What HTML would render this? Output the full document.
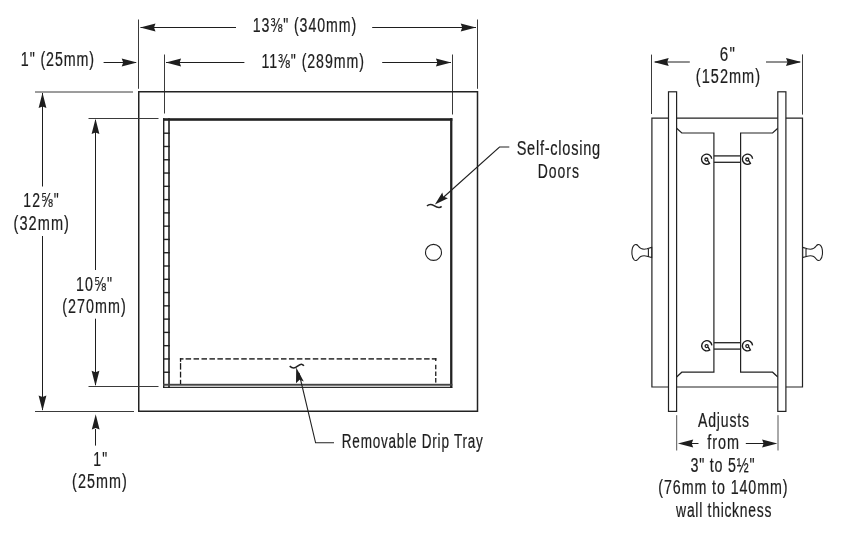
<!DOCTYPE html>
<html><head><meta charset="utf-8"><style>
html,body{margin:0;padding:0;background:#fff;width:850px;height:538px;overflow:hidden}
svg{display:block;will-change:transform}
text{font-family:"Liberation Sans",sans-serif}
</style></head><body>
<svg width="850" height="538" viewBox="0 0 850 538">
<rect width="850" height="538" fill="#fff"/>
<line x1="138.5" y1="19.5" x2="138.5" y2="88.8" stroke="#3a3a3a" stroke-width="1"/>
<line x1="477.5" y1="19.5" x2="477.5" y2="88.8" stroke="#3a3a3a" stroke-width="1"/>
<line x1="140.5" y1="27.5" x2="236" y2="27.5" stroke="#1e1e1e" stroke-width="1"/>
<path d="M140.20,27.50 L155.50,23.60 L154.00,27.50 L155.50,31.40Z" fill="#1e1e1e"/>
<line x1="372.2" y1="27.5" x2="476" y2="27.5" stroke="#1e1e1e" stroke-width="1"/>
<path d="M476.00,27.50 L460.70,23.60 L462.20,27.50 L460.70,31.40Z" fill="#1e1e1e"/>
<text transform="translate(252.82,31.8) scale(0.7228,1)" font-size="19.6" letter-spacing="1.275" fill="#1e1e1e" stroke="#1e1e1e" stroke-width="0.22">13⅜" (340mm)</text>
<line x1="164.5" y1="54.5" x2="164.5" y2="113.5" stroke="#3a3a3a" stroke-width="1"/>
<line x1="452.5" y1="54.5" x2="452.5" y2="114.5" stroke="#3a3a3a" stroke-width="1"/>
<line x1="166" y1="62.5" x2="244.4" y2="62.5" stroke="#1e1e1e" stroke-width="1"/>
<path d="M165.80,62.50 L181.10,58.60 L179.60,62.50 L181.10,66.40Z" fill="#1e1e1e"/>
<line x1="382.2" y1="62.5" x2="451" y2="62.5" stroke="#1e1e1e" stroke-width="1"/>
<path d="M451.20,62.50 L435.90,58.60 L437.40,62.50 L435.90,66.40Z" fill="#1e1e1e"/>
<text transform="translate(261.52,67.6) scale(0.7236,1)" font-size="19.6" letter-spacing="1.275" fill="#1e1e1e" stroke="#1e1e1e" stroke-width="0.22">11⅜" (289mm)</text>
<line x1="103.6" y1="62.5" x2="136" y2="62.5" stroke="#1e1e1e" stroke-width="1"/>
<path d="M137.00,62.50 L121.70,58.60 L123.20,62.50 L121.70,66.40Z" fill="#1e1e1e"/>
<text transform="translate(20.81,66) scale(0.7283,1)" font-size="19.6" letter-spacing="1.224" fill="#1e1e1e" stroke="#1e1e1e" stroke-width="0.22">1" (25mm)</text>
<rect x="138.75" y="91.75" width="338.75" height="319.5" fill="none" stroke="#222" stroke-width="1.5"/>
<line x1="35" y1="92" x2="133" y2="92" stroke="#3a3a3a" stroke-width="1"/>
<line x1="88.5" y1="118.5" x2="158.5" y2="118.5" stroke="#3a3a3a" stroke-width="1"/>
<line x1="35" y1="411.5" x2="134" y2="411.5" stroke="#3a3a3a" stroke-width="1"/>
<line x1="88.5" y1="386.5" x2="158.5" y2="386.5" stroke="#3a3a3a" stroke-width="1"/>
<line x1="42.5" y1="93" x2="42.5" y2="186.5" stroke="#1e1e1e" stroke-width="1"/>
<line x1="42.5" y1="236" x2="42.5" y2="410" stroke="#1e1e1e" stroke-width="1"/>
<path d="M42.50,92.80 L38.60,108.10 L42.50,106.60 L46.40,108.10Z" fill="#1e1e1e"/>
<path d="M42.50,410.70 L38.60,395.40 L42.50,396.90 L46.40,395.40Z" fill="#1e1e1e"/>
<text transform="translate(23.24,207.4) scale(0.7132,1)" font-size="19.6" letter-spacing="1.584" fill="#1e1e1e" stroke="#1e1e1e" stroke-width="0.22">12⅝"</text>
<text transform="translate(13.50,230.4) scale(0.7426,1)" font-size="19.6" letter-spacing="1.446" fill="#1e1e1e" stroke="#1e1e1e" stroke-width="0.22">(32mm)</text>
<line x1="95.5" y1="120" x2="95.5" y2="270" stroke="#1e1e1e" stroke-width="1"/>
<line x1="95.5" y1="318.7" x2="95.5" y2="385" stroke="#1e1e1e" stroke-width="1"/>
<path d="M95.50,118.80 L91.60,134.10 L95.50,132.60 L99.40,134.10Z" fill="#1e1e1e"/>
<path d="M95.50,386.00 L91.60,370.70 L95.50,372.20 L99.40,370.70Z" fill="#1e1e1e"/>
<text transform="translate(75.92,290.9) scale(0.7258,1)" font-size="19.6" letter-spacing="1.584" fill="#1e1e1e" stroke="#1e1e1e" stroke-width="0.22">10⅝"</text>
<text transform="translate(62.31,313.2) scale(0.7309,1)" font-size="19.6" letter-spacing="1.407" fill="#1e1e1e" stroke="#1e1e1e" stroke-width="0.22">(270mm)</text>
<line x1="95.5" y1="429" x2="95.5" y2="445.6" stroke="#1e1e1e" stroke-width="1"/>
<path d="M95.70,414.30 L91.80,429.60 L95.70,428.10 L99.60,429.60Z" fill="#1e1e1e"/>
<text transform="translate(93.14,466.3) scale(0.7127,1)" font-size="19.6" letter-spacing="1.726" fill="#1e1e1e" stroke="#1e1e1e" stroke-width="0.22">1"</text>
<text transform="translate(72.11,487.9) scale(0.7330,1)" font-size="19.6" letter-spacing="1.446" fill="#1e1e1e" stroke="#1e1e1e" stroke-width="0.22">(25mm)</text>
<rect x="163" y="118.2" width="289.4" height="2.6" fill="#222"/>
<rect x="450.1" y="118.2" width="2.3" height="269.5" fill="#222"/>
<rect x="163" y="118.2" width="1.4" height="269.5" fill="#222"/>
<rect x="168.2" y="118.2" width="1.6" height="269.5" fill="#222"/>
<rect x="163" y="383.8" width="289.4" height="1.9" fill="#444"/>
<rect x="163" y="386.8" width="289.4" height="1.1" fill="#151515"/>
<rect x="163" y="132.5" width="6.8" height="1.4" fill="#222"/>
<rect x="163" y="145.78" width="6.8" height="1.4" fill="#222"/>
<rect x="163" y="159.06" width="6.8" height="1.4" fill="#222"/>
<rect x="163" y="172.34" width="6.8" height="1.4" fill="#222"/>
<rect x="163" y="185.62" width="6.8" height="1.4" fill="#222"/>
<rect x="163" y="198.89999999999998" width="6.8" height="1.4" fill="#222"/>
<rect x="163" y="212.18" width="6.8" height="1.4" fill="#222"/>
<rect x="163" y="225.45999999999998" width="6.8" height="1.4" fill="#222"/>
<rect x="163" y="238.74" width="6.8" height="1.4" fill="#222"/>
<rect x="163" y="252.01999999999998" width="6.8" height="1.4" fill="#222"/>
<rect x="163" y="265.3" width="6.8" height="1.4" fill="#222"/>
<rect x="163" y="278.58" width="6.8" height="1.4" fill="#222"/>
<rect x="163" y="291.85999999999996" width="6.8" height="1.4" fill="#222"/>
<rect x="163" y="305.14" width="6.8" height="1.4" fill="#222"/>
<rect x="163" y="318.42" width="6.8" height="1.4" fill="#222"/>
<rect x="163" y="331.7" width="6.8" height="1.4" fill="#222"/>
<rect x="163" y="344.97999999999996" width="6.8" height="1.4" fill="#222"/>
<rect x="163" y="358.26" width="6.8" height="1.4" fill="#222"/>
<rect x="163" y="371.54" width="6.8" height="1.4" fill="#222"/>
<rect x="179.9" y="358.2" width="3.6" height="1.4" fill="#1a1a1a"/>
<rect x="179.9" y="358.2" width="1.3" height="3.6" fill="#1a1a1a"/>
<rect x="185.6" y="358.2" width="5.5" height="1.4" fill="#1a1a1a"/>
<rect x="193.54999999999998" y="358.2" width="5.5" height="1.4" fill="#1a1a1a"/>
<rect x="201.5" y="358.2" width="5.5" height="1.4" fill="#1a1a1a"/>
<rect x="209.45" y="358.2" width="5.5" height="1.4" fill="#1a1a1a"/>
<rect x="217.4" y="358.2" width="5.5" height="1.4" fill="#1a1a1a"/>
<rect x="225.35" y="358.2" width="5.5" height="1.4" fill="#1a1a1a"/>
<rect x="233.3" y="358.2" width="5.5" height="1.4" fill="#1a1a1a"/>
<rect x="241.25" y="358.2" width="5.5" height="1.4" fill="#1a1a1a"/>
<rect x="249.2" y="358.2" width="5.5" height="1.4" fill="#1a1a1a"/>
<rect x="257.15" y="358.2" width="5.5" height="1.4" fill="#1a1a1a"/>
<rect x="265.1" y="358.2" width="5.5" height="1.4" fill="#1a1a1a"/>
<rect x="273.05" y="358.2" width="5.5" height="1.4" fill="#1a1a1a"/>
<rect x="281.0" y="358.2" width="5.5" height="1.4" fill="#1a1a1a"/>
<rect x="288.95" y="358.2" width="5.5" height="1.4" fill="#1a1a1a"/>
<rect x="296.9" y="358.2" width="5.5" height="1.4" fill="#1a1a1a"/>
<rect x="304.85" y="358.2" width="5.5" height="1.4" fill="#1a1a1a"/>
<rect x="312.8" y="358.2" width="5.5" height="1.4" fill="#1a1a1a"/>
<rect x="320.75" y="358.2" width="5.5" height="1.4" fill="#1a1a1a"/>
<rect x="328.7" y="358.2" width="5.5" height="1.4" fill="#1a1a1a"/>
<rect x="336.65" y="358.2" width="5.5" height="1.4" fill="#1a1a1a"/>
<rect x="344.6" y="358.2" width="5.5" height="1.4" fill="#1a1a1a"/>
<rect x="352.55" y="358.2" width="5.5" height="1.4" fill="#1a1a1a"/>
<rect x="360.5" y="358.2" width="5.5" height="1.4" fill="#1a1a1a"/>
<rect x="368.45" y="358.2" width="5.5" height="1.4" fill="#1a1a1a"/>
<rect x="376.4" y="358.2" width="5.5" height="1.4" fill="#1a1a1a"/>
<rect x="384.35" y="358.2" width="5.5" height="1.4" fill="#1a1a1a"/>
<rect x="392.3" y="358.2" width="5.5" height="1.4" fill="#1a1a1a"/>
<rect x="400.25" y="358.2" width="5.5" height="1.4" fill="#1a1a1a"/>
<rect x="408.2" y="358.2" width="5.5" height="1.4" fill="#1a1a1a"/>
<rect x="416.15" y="358.2" width="5.5" height="1.4" fill="#1a1a1a"/>
<rect x="424.1" y="358.2" width="5.5" height="1.4" fill="#1a1a1a"/>
<rect x="431.8" y="358.2" width="4.6" height="1.4" fill="#1a1a1a"/>
<rect x="435.1" y="358.2" width="1.3" height="2.8" fill="#1a1a1a"/>
<rect x="179.9" y="363.1" width="1.3" height="6.5" fill="#1a1a1a"/>
<rect x="179.9" y="371.7" width="1.3" height="5.800000000000011" fill="#1a1a1a"/>
<rect x="179.9" y="379.8" width="1.3" height="4.199999999999989" fill="#1a1a1a"/>
<rect x="435.1" y="364.8" width="1.3" height="4.5" fill="#1a1a1a"/>
<rect x="435.1" y="371.5" width="1.3" height="4.5" fill="#1a1a1a"/>
<rect x="435.1" y="378" width="1.3" height="4.600000000000023" fill="#1a1a1a"/>
<circle cx="433.5" cy="252.4" r="8" fill="none" stroke="#222" stroke-width="1.1"/>
<path d="M509.3,147 H499.5 L441,199.5" fill="none" stroke="#222" stroke-width="1.1" />
<path d="M434.9,204.5 L442.3,192.6 L443.3,196.6 L447.9,198.2 Z" fill="#1e1e1e"/>
<path d="M427,206 C429,204 431,203.8 434,205.6 C437,207.6 439.5,208.6 441.6,206.4" fill="none" stroke="#222" stroke-width="1.6" />
<text transform="translate(516.64,155.2) scale(0.7434,1)" font-size="19.6" letter-spacing="1.002" fill="#1e1e1e" stroke="#1e1e1e" stroke-width="0.22">Self-closing</text>
<text transform="translate(537.75,177.9) scale(0.7133,1)" font-size="19.6" letter-spacing="1.388" fill="#1e1e1e" stroke="#1e1e1e" stroke-width="0.22">Doors</text>
<path d="M334,442.8 H315.6 L299,373" fill="none" stroke="#222" stroke-width="1.1" />
<path d="M296.2,367.6 L296,383.3 L299.6,379.8 L303.8,381.4 Z" fill="#1e1e1e"/>
<path d="M289.7,366.2 C291.5,367.8 293,368.6 295.5,367.6 C298,366 300,364 301.5,364.2 C302.8,364.4 303.4,365 303.8,365.8" fill="none" stroke="#222" stroke-width="1.6" />
<text transform="translate(341.79,447.9) scale(0.6905,1)" font-size="19.6" letter-spacing="1.133" fill="#1e1e1e" stroke="#1e1e1e" stroke-width="0.22">Removable Drip Tray</text>
<text transform="translate(719.63,60.6) scale(0.7748,1)" font-size="19.6" letter-spacing="1.781" fill="#1e1e1e" stroke="#1e1e1e" stroke-width="0.22">6"</text>
<text transform="translate(695.80,83) scale(0.7403,1)" font-size="19.6" letter-spacing="1.407" fill="#1e1e1e" stroke="#1e1e1e" stroke-width="0.22">(152mm)</text>
<line x1="651.5" y1="54.6" x2="651.5" y2="114" stroke="#3a3a3a" stroke-width="1"/>
<line x1="802.5" y1="54.4" x2="802.5" y2="114.6" stroke="#3a3a3a" stroke-width="1"/>
<line x1="655" y1="62" x2="689.8" y2="62" stroke="#1e1e1e" stroke-width="1"/>
<path d="M653.40,62.00 L668.70,58.10 L667.20,62.00 L668.70,65.90Z" fill="#1e1e1e"/>
<line x1="766" y1="62" x2="800" y2="62" stroke="#1e1e1e" stroke-width="1"/>
<path d="M801.30,62.00 L786.00,58.10 L787.50,62.00 L786.00,65.90Z" fill="#1e1e1e"/>
<path d="M651.9,118.2 H802.5 V387 H651.9 Z" fill="none" stroke="#222" stroke-width="1.2"/>
<path d="M676.6,128.2 L681.8,133 H713.9 V372.2 H681.8 L676.6,377 M777.8,128.2 L772.6,133 H740.6 V372.2 H772.6 L777.8,377" fill="none" stroke="#222" stroke-width="1.2" />
<line x1="713.9" y1="155.9" x2="740.6" y2="155.9" stroke="#222" stroke-width="1.3"/>
<line x1="713.9" y1="162.3" x2="740.6" y2="162.3" stroke="#222" stroke-width="1.3"/>
<line x1="713.9" y1="342.7" x2="740.6" y2="342.7" stroke="#222" stroke-width="1.3"/>
<line x1="713.9" y1="349.1" x2="740.6" y2="349.1" stroke="#222" stroke-width="1.3"/>
<path d="M711.68,158.76 A5.1,5.1 0 1 0 709.53,163.38 L707.90,160.60" fill="none" stroke="#1a1a1a" stroke-width="1.35"/>
<circle cx="706.4" cy="159.5" r="1.5" fill="none" stroke="#1a1a1a" stroke-width="1.3"/>
<path d="M752.58,158.76 A5.1,5.1 0 1 0 750.43,163.38 L748.80,160.60" fill="none" stroke="#1a1a1a" stroke-width="1.35"/>
<circle cx="747.3" cy="159.5" r="1.5" fill="none" stroke="#1a1a1a" stroke-width="1.3"/>
<path d="M711.88,345.36 A5.1,5.1 0 1 0 709.73,349.98 L708.10,347.20" fill="none" stroke="#1a1a1a" stroke-width="1.35"/>
<circle cx="706.5999999999999" cy="346.1" r="1.5" fill="none" stroke="#1a1a1a" stroke-width="1.3"/>
<path d="M752.58,345.36 A5.1,5.1 0 1 0 750.43,349.98 L748.80,347.20" fill="none" stroke="#1a1a1a" stroke-width="1.35"/>
<circle cx="747.3" cy="346.1" r="1.5" fill="none" stroke="#1a1a1a" stroke-width="1.3"/>
<rect x="668.5" y="91.8" width="8.1" height="319.6" fill="#fff" stroke="#222" stroke-width="1.2"/>
<rect x="777.8" y="91.8" width="8.1" height="319.6" fill="#fff" stroke="#222" stroke-width="1.2"/>
<path d="M651.7,247.4 L647,248.8 C643,249.8 640.5,249.5 638.2,246 C637.3,244.6 635.6,244 634.2,245.2 C632.3,247 631.9,250 631.9,252.5 C631.9,255 632.3,258 634.2,259.8 C635.6,261 637.3,260.4 638.2,259 C640.5,255.5 643,255.2 647,256.2 L651.7,257.6 Z M648.4,248.5 V256.5" fill="#fff" stroke="#222" stroke-width="1.1"/>
<g transform="translate(1454.4,0) scale(-1,1)"><path d="M651.7,247.4 L647,248.8 C643,249.8 640.5,249.5 638.2,246 C637.3,244.6 635.6,244 634.2,245.2 C632.3,247 631.9,250 631.9,252.5 C631.9,255 632.3,258 634.2,259.8 C635.6,261 637.3,260.4 638.2,259 C640.5,255.5 643,255.2 647,256.2 L651.7,257.6 Z M648.4,248.5 V256.5" fill="#fff" stroke="#222" stroke-width="1.1"/></g>
<line x1="676.7" y1="415.2" x2="676.7" y2="450.5" stroke="#555" stroke-width="1"/>
<line x1="778" y1="415.2" x2="778" y2="450.5" stroke="#555" stroke-width="1"/>
<line x1="690" y1="443.5" x2="698.5" y2="443.5" stroke="#1e1e1e" stroke-width="1"/>
<path d="M677.90,443.50 L693.20,439.60 L691.70,443.50 L693.20,447.40Z" fill="#1e1e1e"/>
<line x1="745.8" y1="443.5" x2="765" y2="443.5" stroke="#1e1e1e" stroke-width="1"/>
<path d="M777.40,443.50 L762.10,439.60 L763.60,443.50 L762.10,447.40Z" fill="#1e1e1e"/>
<text transform="translate(697.97,426.5) scale(0.7154,1)" font-size="19.6" letter-spacing="1.176" fill="#1e1e1e" stroke="#1e1e1e" stroke-width="0.22">Adjusts</text>
<text transform="translate(707.20,449.1) scale(0.7366,1)" font-size="19.6" letter-spacing="1.394" fill="#1e1e1e" stroke="#1e1e1e" stroke-width="0.22">from</text>
<text transform="translate(690.45,471.7) scale(0.7307,1)" font-size="19.6" letter-spacing="1.079" fill="#1e1e1e" stroke="#1e1e1e" stroke-width="0.22">3" to 5½"</text>
<text transform="translate(658.31,494.2) scale(0.7284,1)" font-size="19.6" letter-spacing="1.251" fill="#1e1e1e" stroke="#1e1e1e" stroke-width="0.22">(76mm to 140mm)</text>
<text transform="translate(676.12,516.8) scale(0.7096,1)" font-size="19.6" letter-spacing="1.028" fill="#1e1e1e" stroke="#1e1e1e" stroke-width="0.22">wall thickness</text>
</svg>
</body></html>
